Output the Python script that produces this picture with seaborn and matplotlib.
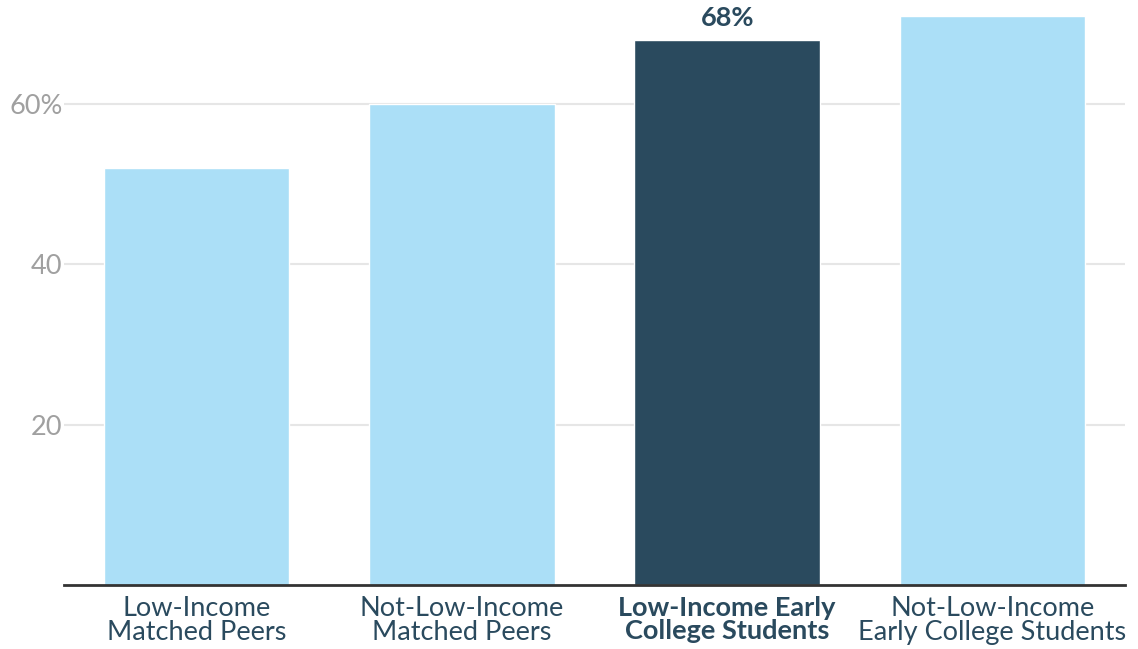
import matplotlib
matplotlib.use("Agg")
import matplotlib.pyplot as plt
import seaborn as sns

categories = [
    "Low-Income\nMatched Peers",
    "Not-Low-Income\nMatched Peers",
    "Low-Income Early\nCollege Students",
    "Not-Low-Income\nEarly College Students",
]
values = [52, 60, 68, 71]
highlight_index = 2
y_ticks = [20, 40, 60]
y_tick_labels = ["20", "40", "60%"]

LIGHT = "#abdff7"
DARK = "#2a4a5e"
GRAY_TEXT = "#a0a0a0"

sns.set_theme(style="white")
plt.rcParams["font.family"] = ["Lato", "DejaVu Sans"]

fig = plt.figure(figsize=(11.38, 6.49), dpi=100)
ax = fig.add_axes([64 / 1138, (649 - 585) / 649, (1125 - 64) / 1138, 585 / 649])

palette = [DARK if i == highlight_index else LIGHT for i in range(len(categories))]
sns.barplot(x=categories, y=values, hue=categories, palette=palette,
            width=0.70, legend=False, ax=ax, saturation=1)

ax.set_xlim(-0.5, len(categories) - 0.5)
ax.set_ylim(0, 73.0)
ax.set_yticks(y_ticks)
ax.set_yticklabels(y_tick_labels, color=GRAY_TEXT, fontsize=19.5)
ax.yaxis.grid(True, color="#e6e6e6", linewidth=1.5)
ax.set_axisbelow(True)

for side in ["top", "right", "left"]:
    ax.spines[side].set_visible(False)
ax.spines["bottom"].set_color("#333333")
ax.spines["bottom"].set_linewidth(2)

ax.tick_params(axis="y", length=0, pad=1)
ax.tick_params(axis="x", length=0, pad=8)
for i, lab in enumerate(ax.get_xticklabels()):
    lab.set_color(DARK)
    lab.set_fontsize(19.5)
    lab.set_linespacing(0.95)
    if i == highlight_index:
        lab.set_fontweight("bold")

ax.set_xlabel("")
ax.set_ylabel("")

# Value label over the highlighted bar
ax.annotate(f"{values[highlight_index]}%", xy=(highlight_index, values[highlight_index]),
            xytext=(0, 7), textcoords="offset points", ha="center", va="bottom",
            fontsize=19.5, fontweight="bold", color=DARK)

fig.savefig("out.png", dpi=100)
